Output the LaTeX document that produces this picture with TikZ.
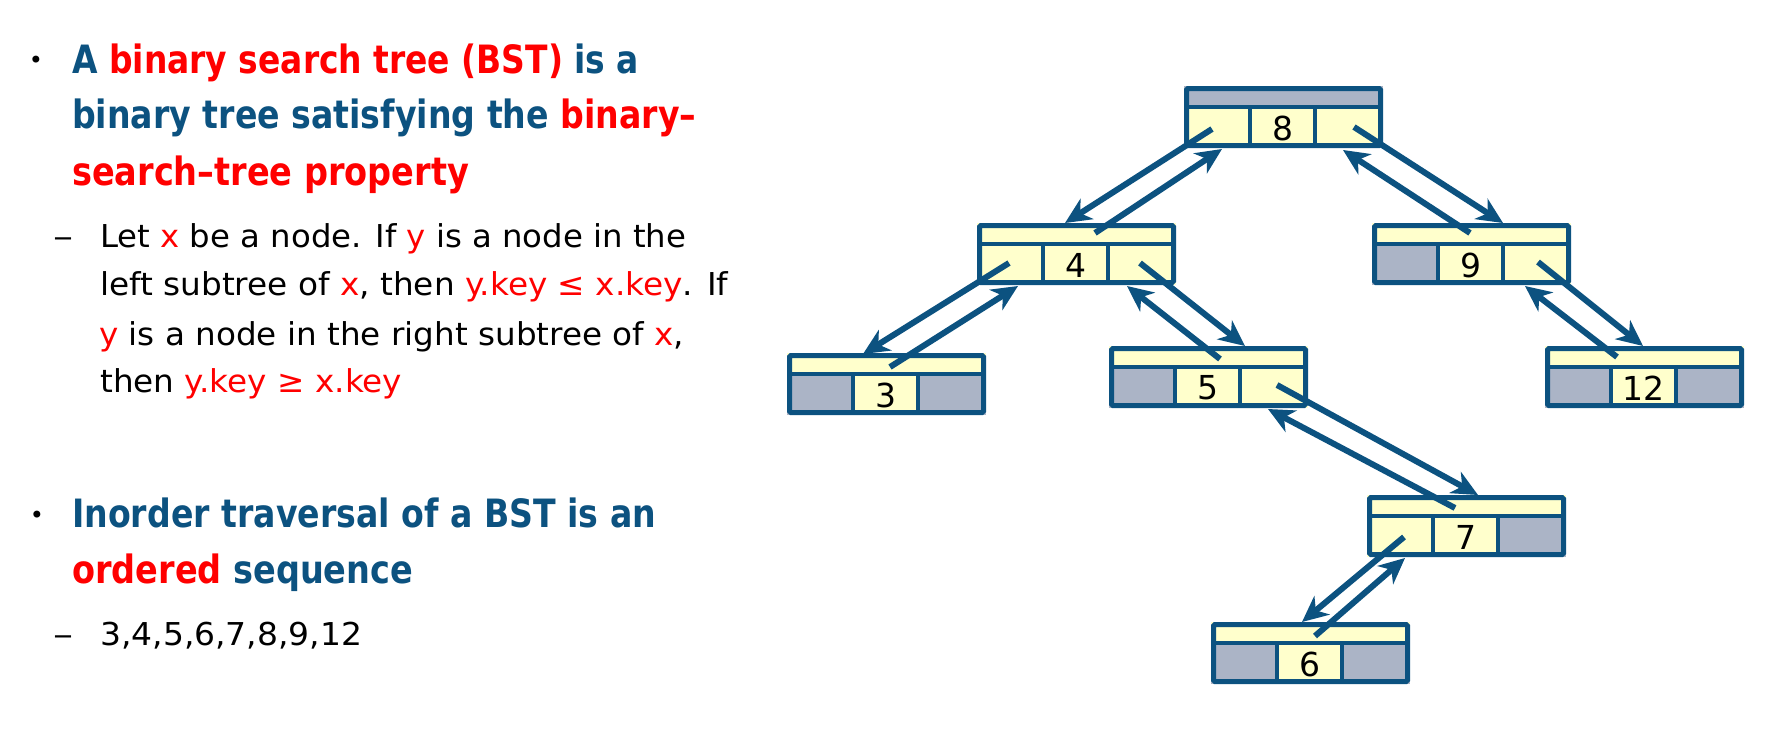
\documentclass[tikz,border=0pt]{standalone}
\usepackage{fontspec}
\setmainfont{DejaVu Sans}
\usepackage{graphicx}
\usetikzlibrary{arrows.meta}
\definecolor{bstblue}{RGB}{12,82,128}
\definecolor{cellyel}{RGB}{255,255,204}
\definecolor{cellgray}{RGB}{171,180,198}
\definecolor{hired}{RGB}{255,0,0}
\newcommand\fitline[2]{\resizebox{#1pt}{\height}{#2}}
% name, x, y (top-left, px), key, top fill, left fill, right fill
\newcommand\bstnode[7]{%
  \fill[#5] (#2,#3) rectangle ++(199,21);
  \fill[#6] (#2,#3+21) rectangle ++(66,41);
  \fill[cellyel] (#2+66,#3+21) rectangle ++(66,41);
  \fill[#7] (#2+131,#3+21) rectangle ++(68,41);
  \draw[bstline] (#2,#3+21) -- ++(199,0);
  \draw[bstline] (#2+66,#3+21) -- ++(0,41);
  \draw[bstline] (#2+131,#3+21) -- ++(0,41);
  \node[bstbox] (#1) at (#2+99.5,#3+31) {};
  \node[keytext] (#1k) at (#2+98.5,#3+42) {#4};
}
\begin{document}
\begin{tikzpicture}[x=1pt,y=-1pt,
  bstbox/.style={draw=bstblue,line width=5pt,rounded corners=1.5pt,minimum width=194pt,minimum height=57pt,inner sep=0pt},
  bstline/.style={draw=bstblue,line width=4.5pt},
  keytext/.style={font=\fontsize{33}{33}\selectfont,inner sep=0pt,text=black},
  ptr/.style={draw=bstblue,line width=6pt,-{Stealth[length=26pt,width=24pt,inset=8pt]}},
  big/.style={font=\bfseries\fontsize{39}{48}\selectfont,text=bstblue,anchor=base west,inner sep=0pt},
  small/.style={font=\fontsize{31.5}{38}\selectfont,text=black,anchor=base west,inner sep=0pt},
  bul/.style={font=\fontsize{24}{24}\selectfont,text=black,inner sep=0pt}]
\fill[white] (0,0) rectangle (1789,736);
\useasboundingbox (0,0) rectangle (1789,736);

% ---- left text ----
\node[bul] (bu1) at (36,62) {•};
\node[big] (t1) at (72,73) {\fitline{567}{A \textcolor{hired}{binary search tree (BST)} is a}};
\node[big] (t2) at (72,128) {\fitline{624}{binary tree satisfying the \textcolor{hired}{binary–}}};
\node[big] (t3) at (72,185) {\fitline{397}{\textcolor{hired}{search–tree property}}};
\node[small] (d1) at (53,247) {\resizebox{20pt}{\height}{–}};
\node[small] (s1) at (100,247) {\fitline{586}{Let \textcolor{hired}{x} be a node. If \textcolor{hired}{y} is a node in the}};
\node[small] (s2) at (100,295) {\fitline{628}{left subtree of \textcolor{hired}{x}, then \textcolor{hired}{y.key ≤ x.key}. If}};
\node[small] (s3) at (99,345) {\fitline{585}{\textcolor{hired}{y} is a node in the right subtree of \textcolor{hired}{x},}};
\node[small] (s4) at (100,392) {\fitline{302}{then \textcolor{hired}{y.key ≥ x.key}}};
\node[bul] (bu2) at (37,517) {•};
\node[big] (t4) at (72,527) {\fitline{584}{Inorder traversal of a BST is an}};
\node[big] (t5) at (72,583) {\fitline{341}{\textcolor{hired}{ordered} sequence}};
\node[small] (d2) at (53,645) {\resizebox{20pt}{\height}{–}};
\node[small] (s5) at (100,645) {\fitline{262}{3,4,5,6,7,8,9,12}};

% ---- tree nodes ----
\bstnode{n8}{1184}{86}{8}{cellgray}{cellyel}{cellyel}
\bstnode{n4}{977}{223}{4}{cellyel}{cellyel}{cellyel}
\bstnode{n9}{1372}{223}{9}{cellyel}{cellgray}{cellyel}
\bstnode{n3}{787}{353}{3}{cellyel}{cellgray}{cellgray}
\bstnode{n5}{1109}{346}{5}{cellyel}{cellgray}{cellyel}
\bstnode{n12}{1545}{346}{12}{cellyel}{cellgray}{cellgray}
\bstnode{n7}{1367}{495}{7}{cellyel}{cellyel}{cellgray}
\bstnode{n6}{1211}{622}{6}{cellyel}{cellgray}{cellgray}

% ---- pointers ----
% 8 <-> 4
\draw[ptr] ([shift={(28,43)}]n8.north west) -- ([shift={(88,0)}]n4.north west);
\draw[ptr] ([shift={(118,10)}]n4.north west) -- ([shift={(38,63)}]n8.north west);
% 8 <-> 9
\draw[ptr] ([shift={(170,41)}]n8.north west) -- ([shift={(131,0)}]n9.north west);
\draw[ptr] ([shift={(98,10)}]n9.north west) -- ([shift={(159,64)}]n8.north west);
% 4 <-> 3
\draw[ptr] ([shift={(32,40)}]n4.north west) -- ([shift={(76,1)}]n3.north west);
\draw[ptr] ([shift={(103,14)}]n3.north west) -- ([shift={(41,63)}]n4.north west);
% 4 <-> 5
\draw[ptr] ([shift={(163,40)}]n4.north west) -- ([shift={(136,0)}]n5.north west);
\draw[ptr] ([shift={(111,13)}]n5.north west) -- ([shift={(150,63)}]n4.north west);
% 9 <-> 12
\draw[ptr] ([shift={(166,39)}]n9.north west) -- ([shift={(98,0)}]n12.north west);
\draw[ptr] ([shift={(72,11)}]n12.north west) -- ([shift={(153,63)}]n9.north west);
% 5 <-> 7
\draw[ptr] ([shift={(168,39)}]n5.north west) -- ([shift={(111,0)}]n7.north west);
\draw[ptr] ([shift={(88,13)}]n7.north west) -- ([shift={(159,63)}]n5.north west);
% 7 <-> 6
\draw[ptr] ([shift={(37,42)}]n7.north west) -- ([shift={(91,0)}]n6.north west);
\draw[ptr] ([shift={(104,14)}]n6.north west) -- ([shift={(38,63)}]n7.north west);
\end{tikzpicture}
\end{document}
